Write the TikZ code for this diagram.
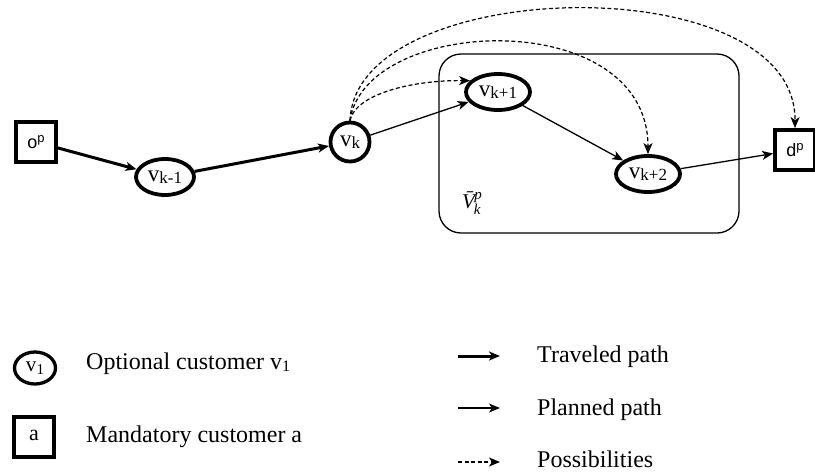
\documentclass[tikz,border=0pt]{standalone}
\usepackage{fontspec}
\setmainfont{Liberation Serif}
\newfontfamily\arialfont{Liberation Sans}
\usetikzlibrary{arrows.meta,shapes.geometric}

% lowered index in the style of a word-processor subscript
\newcommand{\lowidx}[2][17]{{\fontsize{#1}{#1}\selectfont\raisebox{-2.5pt}{#2}}}
\newcommand{\upidx}[1]{{\fontsize{13}{13}\selectfont\raisebox{6pt}{#1}}}

\tikzset{
  optnode/.style={ellipse, draw, line width=3.8pt, inner sep=0pt,
                  font=\rmfamily\fontsize{23}{23}\selectfont},
  mandnode/.style={rectangle, draw, line width=3.8pt, minimum size=40pt, inner sep=0pt,
                   font=\arialfont\fontsize{18}{18}\selectfont},
  tip/.style={-{Stealth[length=11pt,width=9pt,inset=3pt]}},
  traveled/.style={tip, line width=3pt},
  planned/.style={tip, line width=1.3pt},
  possible/.style={tip, line width=1.2pt, dash pattern=on 4pt off 2.5pt},
  legtext/.style={anchor=base west, inner sep=0pt, font=\rmfamily\fontsize{24}{24}\selectfont},
}

\begin{document}
\begin{tikzpicture}[x=1pt,y=-1pt]
\useasboundingbox (0,0) rectangle (815,472);

% set of remaining planned customers
\draw[line width=1.3pt, rounded corners=22pt] (439,54) rectangle (739,233);
\node[inner sep=0pt, font=\rmfamily\itshape\fontsize{21}{21}\selectfont] (vset) at (472,203)
  {\=V\kern-1pt{\fontsize{15}{15}\selectfont\raisebox{-6pt}{k}\kern-6pt\raisebox{9pt}{p}}};

% route nodes
\node[mandnode] (op) at (36,142) {o\upidx{p}};
\node[optnode, minimum width=58pt, minimum height=36pt] (vkm1) at (165,177) {v\lowidx{k-1}};
\node[optnode, circle, minimum size=39pt] (vk) at (350,142) {v\lowidx{k}};
\node[optnode, minimum width=64pt, minimum height=36pt] (vkp1) at (498,92) {v\lowidx{k+1}};
\node[optnode, minimum width=64pt, minimum height=36pt] (vkp2) at (648,174) {v\lowidx{k+2}};
\node[mandnode] (dp) at (795,150) {d\upidx{p}};

% traveled path
\draw[traveled] (op) -- (vkm1);
\draw[traveled] (vkm1) -- (vk);

% planned path
\draw[planned] (vk) -- (vkp1);
\draw[planned] (vkp1) -- (vkp2);
\draw[planned] (vkp2) -- (dp);

% possible next moves from v_k
\draw[possible] (vk.north) .. controls (355,95) and (410,80) .. (vkp1.158);
\draw[possible] (vk.north) .. controls (365,15) and (648,5) .. (vkp2.north);
\draw[possible] (vk.north) .. controls (355,-25) and (796,-35) .. (dp.north);

% legend: node types
\node[optnode, minimum width=41pt, minimum height=32pt, line width=3.3pt,
      font=\rmfamily\fontsize{21}{21}\selectfont] (legopt) at (35,368) {v\lowidx[15]{1}};
\node[legtext] (legopttext) at (86,369) {Optional customer v\lowidx[16]{1}};
\node[rectangle, draw, line width=3.5pt, minimum size=40pt, inner sep=0pt,
      font=\rmfamily\fontsize{22}{22}\selectfont] (legmand) at (34,437) {\raisebox{3pt}{a}};
\node[legtext] (legmandtext) at (86,442) {Mandatory customer a};

% legend: arc types
\coordinate (la1) at (458,356); \coordinate (lb1) at (500,356);
\coordinate (la2) at (458,408); \coordinate (lb2) at (500,408);
\coordinate (la3) at (458,462); \coordinate (lb3) at (500,462);
\draw[traveled] (la1) -- (lb1);
\draw[planned] (la2) -- (lb2);
\draw[possible] (la3) -- (lb3);
\node[legtext] (lt1) at (537,362) {Traveled path};
\node[legtext] (lt2) at (537,415) {Planned path};
\node[legtext] (lt3) at (537,467) {Possibilities};
\end{tikzpicture}
\end{document}
